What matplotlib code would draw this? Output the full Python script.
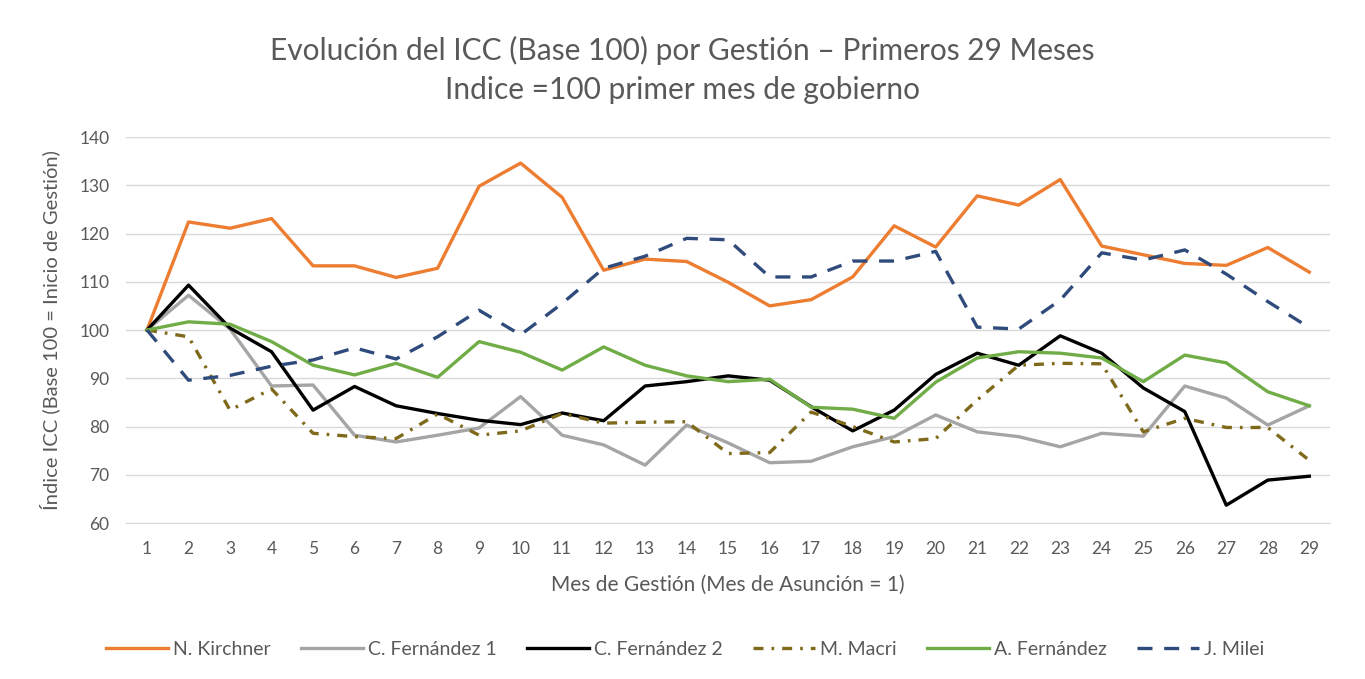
import matplotlib
matplotlib.use("Agg")
import matplotlib.pyplot as plt

plt.rcParams['font.family'] = ['Lato', 'DejaVu Sans']

meses = list(range(1, 30))

kirchner = [100, 122.4, 121.1, 123.1, 113.3, 113.3, 110.9, 112.8, 129.8, 134.6,
            127.5, 112.4, 114.7, 114.2, 109.9, 105, 106.3, 111, 121.6, 117.2,
            127.8, 125.9, 131.2, 117.4, 115.6, 113.8, 113.4, 117.1, 112]
cfk1 = [100, 107.2, 100.2, 88.4, 88.6, 78.2, 76.8, 78.2, 79.7, 86.2,
        78.2, 76.2, 72, 80.3, 76.6, 72.5, 72.8, 75.8, 77.9, 82.4,
        78.9, 77.9, 75.8, 78.6, 78, 88.4, 85.9, 80.3, 84.3]
cfk2 = [100, 109.3, 100.4, 95.5, 83.4, 88.3, 84.3, 82.7, 81.3, 80.4,
        82.8, 81.2, 88.4, 89.3, 90.5, 89.6, 84.1, 79.1, 83.4, 90.8,
        95.2, 92.7, 98.8, 95.2, 88, 83.1, 63.7, 68.9, 69.7]
macri = [100, 98.6, 83.4, 87.8, 78.6, 77.9, 77.5, 82.6, 78.2, 79.1,
         82.7, 80.7, 80.9, 81, 74.4, 74.6, 83, 80, 76.8, 77.5,
         85.5, 92.7, 93.1, 93, 78.9, 81.7, 79.8, 79.8, 73]
afernandez = [100, 101.7, 101.2, 97.6, 92.7, 90.7, 93.1, 90.2, 97.6, 95.4,
              91.7, 96.5, 92.7, 90.5, 89.3, 89.8, 84, 83.6, 81.7, 89.2,
              94.2, 95.5, 95.2, 94.2, 89.3, 94.8, 93.2, 87.2, 84.3]
milei = [100, 89.6, 90.6, 92.5, 93.8, 96.3, 94, 98.6, 104.1, 99,
         105.5, 112.8, 115.3, 119, 118.7, 111, 111, 114.3, 114.3, 116.3,
         100.6, 100.2, 106.2, 116, 114.5, 116.6, 111.6, 105.9, 100.5]

series = [
    ("N. Kirchner", kirchner, "#ED7D31", "-"),
    ("C. Fernández 1", cfk1, "#A5A5A5", "-"),
    ("C. Fernández 2", cfk2, "#000000", "-"),
    ("M. Macri", macri, "#7F6A1C", (0, (3, 2.4, 0.8, 2.4))),
    ("A. Fernández", afernandez, "#70AD47", "-"),
    ("J. Milei", milei, "#2F4B7C", (0, (4.5, 3.5))),
]

fig = plt.figure(figsize=(13.65, 6.79), dpi=100)
ax = fig.add_axes([0.0925, 0.2297, 0.8819, 0.5685])

for nombre, valores, color, estilo in series:
    ax.plot(meses, valores, color=color, linestyle=estilo, lw=2.4, label=nombre)

ax.set_xlim(0.5, 29.5)
ax.set_ylim(60, 140)
ax.set_xticks(meses)
ax.set_yticks(range(60, 141, 10))
ax.grid(axis='y', color='#D9D9D9', lw=1)
ax.set_axisbelow(True)
for s in ['top', 'right', 'left']:
    ax.spines[s].set_visible(False)
ax.spines['bottom'].set_color('#D9D9D9')
ax.tick_params(axis='x', length=0, labelsize=12.5, colors='#595959', pad=13)
ax.tick_params(axis='y', length=0, labelsize=12.5, colors='#595959', pad=12)

ax.set_xlabel("Mes de Gestión (Mes de Asunción = 1)", fontsize=15, color='#595959', labelpad=13)
ax.set_ylabel("Índice ICC (Base 100 = Inicio de Gestión)", fontsize=14.5, color='#595959', labelpad=14)

fig.text(0.5, 0.925, "Evolución del ICC (Base 100) por Gestión – Primeros 29 Meses",
         ha='center', va='center', fontsize=21.5, color='#595959')
fig.text(0.5, 0.868, "Indice =100 primer mes de gobierno",
         ha='center', va='center', fontsize=21.5, color='#595959')

leg = fig.legend(loc='center', bbox_to_anchor=(0.502, 0.043), ncol=6, frameon=False,
                 fontsize=14, handlelength=3.2, columnspacing=1.55, handletextpad=0.25)
for t in leg.get_texts():
    t.set_color('#595959')

fig.savefig("out.png", dpi=100)
